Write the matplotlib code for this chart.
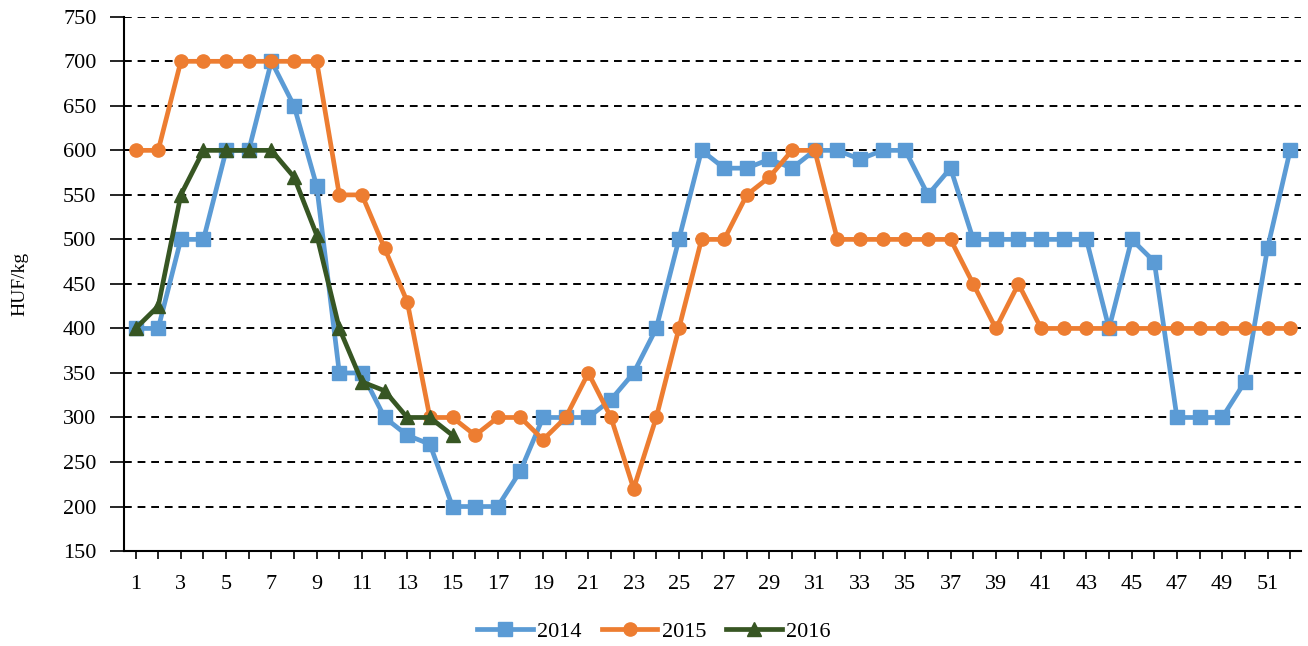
import numpy as np
import matplotlib.pyplot as plt

plt.rcParams['font.family'] = ['Liberation Serif', 'DejaVu Serif']

weeks = list(range(1, 53))
y2014 = [400, 400, 500, 500, 600, 600, 700, 650, 560, 350, 350, 300, 280, 270, 200, 200, 200,
         240, 300, 300, 300, 320, 350, 400, 500, 600, 580, 580, 590, 580, 600, 600, 590, 600,
         600, 550, 580, 500, 500, 500, 500, 500, 500, 400, 500, 475, 300, 300, 300, 340, 490, 600]
y2015 = [600, 600, 700, 700, 700, 700, 700, 700, 700, 550, 550, 490, 430, 300, 300, 280, 300,
         300, 275, 300, 350, 300, 220, 300, 400, 500, 500, 550, 570, 600, 600, 500, 500, 500,
         500, 500, 500, 450, 400, 450, 400, 400, 400, 400, 400, 400, 400, 400, 400, 400, 400, 400]
y2016 = [400, 425, 550, 600, 600, 600, 600, 570, 505, 400, 340, 330, 300, 300, 280]

fig = plt.figure(figsize=(13.08, 6.46), dpi=100)
ax = fig.add_axes([0.095, 0.147, 0.9, 0.827])

ax.plot(weeks, y2014, color='#5B9BD5', lw=3.4, marker='s', ms=9.5, label='2014')
ax.plot(weeks, y2015, color='#ED7D31', lw=3.4, marker='o', ms=9.5, label='2015')
ax.plot(weeks[:len(y2016)], y2016, color='#375623', lw=3.4, marker='^', ms=9.5, label='2016')

ax.set_xlim(0.5, 52.5)
ax.set_ylim(150, 750)
ax.set_yticks(range(150, 751, 50))
ax.set_xticks(weeks)
ax.set_xticklabels([str(w) if w % 2 == 1 else '' for w in weeks])
ax.tick_params(labelsize=16, width=1.2, direction='out')
ax.tick_params(axis='y', length=10, pad=10)
ax.tick_params(axis='x', length=6, pad=11)
ax.yaxis.grid(True, color='black', ls=(0, (4, 3)), lw=1.4)
ax.set_axisbelow(True)
for s in ['top', 'right']:
    ax.spines[s].set_visible(False)
for s in ['left', 'bottom']:
    ax.spines[s].set_linewidth(1.5)
ax.set_ylabel('HUF/kg', fontsize=14, labelpad=25)

fig.legend(loc='center', bbox_to_anchor=(0.5, 0.022), ncol=3, frameon=False,
           fontsize=16, handlelength=2.5, columnspacing=0.9, handletextpad=0.2)

fig.savefig('out.png', dpi=100)
